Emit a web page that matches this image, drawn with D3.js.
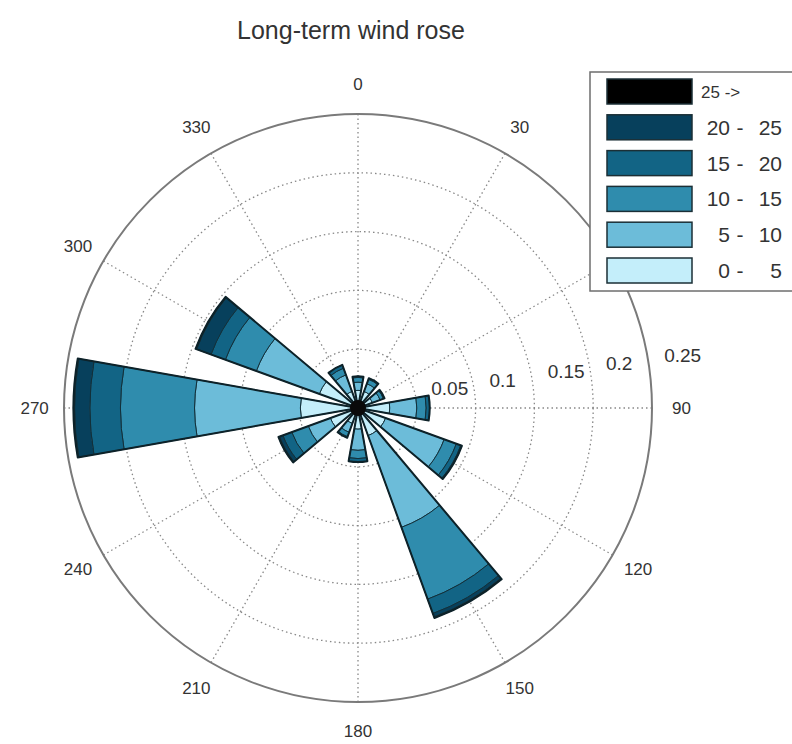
<!DOCTYPE html>
<html><head><meta charset="utf-8">
<script src="https://cdn.jsdelivr.net/npm/d3@7"></script>
<style>body{margin:0;background:#fff}svg{display:block}</style>
</head><body>
<script>
// ---- data ----
const directions = [0, 30, 60, 90, 120, 150, 180, 210, 240, 270, 300, 330];
const speedBins = ["0 - 5", "5 - 10", "10 - 15", "15 - 20", "20 - 25", "25 ->"];
const freq0to5   = [0.015, 0.015, 0.013, 0.027, 0.025, 0.025, 0.018, 0.014, 0.025, 0.049, 0.035, 0.015];
const freq5to10  = [0.007, 0.007, 0.007, 0.023, 0.053, 0.083, 0.018, 0.008, 0.020, 0.090, 0.057, 0.015];
const freq10to15 = [0.004, 0.004, 0.003, 0.008, 0.011, 0.065, 0.007, 0.004, 0.015, 0.063, 0.028, 0.006];
const freq15to20 = [0.001, 0.001, 0.001, 0.003, 0.004, 0.013, 0.003, 0.001, 0.008, 0.026, 0.013, 0.003];
const freq20to25 = [0.000, 0.000, 0.000, 0.000, 0.001, 0.003, 0.000, 0.000, 0.003, 0.013, 0.013, 0.000];
const freq25up   = [0.000, 0.000, 0.000, 0.000, 0.000, 0.001, 0.000, 0.000, 0.001, 0.001, 0.001, 0.000];
const binColors = ["#c4eefa", "#6cbcd9", "#2f8cad", "#126485", "#07405c", "#000000"];
const radialTicks = [0.05, 0.1, 0.15, 0.2, 0.25];
const angleTicks = [0, 30, 60, 90, 120, 150, 180, 210, 240, 270, 300, 330];
const titleText = "Long-term wind rose";

// ---- layout ----
const W = 792, H = 744, cx = 358, cy = 408, R = 294;
const font = "'Liberation Sans', Arial, sans-serif";
const svg = d3.select("body").append("svg").attr("width", W).attr("height", H);
svg.append("rect").attr("width", W).attr("height", H).attr("fill", "#fff");

const r = d3.scaleLinear().domain([0, 0.25]).range([0, R]);
const rad = d => d * Math.PI / 180;
const g = svg.append("g").attr("transform", `translate(${cx},${cy})`);

// grid
g.selectAll("circle.grid").data(radialTicks.slice(0, -1)).join("circle")
  .attr("class", "grid").attr("r", d => r(d)).attr("fill", "none")
  .attr("stroke", "#888").attr("stroke-width", 1.3).attr("stroke-dasharray", "1.5,3");
g.selectAll("line.spoke").data(angleTicks).join("line")
  .attr("class", "spoke")
  .attr("x1", 0).attr("y1", 0)
  .attr("x2", d => R * Math.sin(rad(d))).attr("y2", d => -R * Math.cos(rad(d)))
  .attr("stroke", "#888").attr("stroke-width", 1.3).attr("stroke-dasharray", "1.5,3");
g.append("circle").attr("r", r(0.25)).attr("fill", "none").attr("stroke", "#7a7a7a").attr("stroke-width", 2);

// bars
const series = [freq0to5, freq5to10, freq10to15, freq15to20, freq20to25, freq25up];
const arc = d3.arc();
const halfW = 10;
const segs = [], outlines = [];
directions.forEach((dir, i) => {
  let cum = 0;
  series.forEach((s, j) => {
    const v = s[i];
    if (v > 0) segs.push({dir, j, inner: cum, outer: cum + v});
    cum += v;
  });
  outlines.push({dir, total: cum});
});
g.selectAll("path.seg").data(segs).join("path").attr("class", "seg")
  .attr("d", d => arc({innerRadius: r(d.inner), outerRadius: r(d.outer),
    startAngle: rad(d.dir - halfW), endAngle: rad(d.dir + halfW)}))
  .attr("fill", d => binColors[d.j]).attr("stroke", "#12303a").attr("stroke-width", 1);
g.selectAll("path.outline").data(outlines).join("path").attr("class", "outline")
  .attr("d", d => arc({innerRadius: 0, outerRadius: r(d.total),
    startAngle: rad(d.dir - halfW), endAngle: rad(d.dir + halfW)}))
  .attr("fill", "none").attr("stroke", "#0d2229").attr("stroke-width", 2).attr("stroke-linejoin", "round");
// dark hub where all sector outlines meet
g.append("circle").attr("r", 8).attr("fill", "#0a0a0a");

// angle labels
g.selectAll("text.ang").data(angleTicks).join("text").attr("class", "ang")
  .attr("x", d => 1.1 * R * Math.sin(rad(d))).attr("y", d => -1.1 * R * Math.cos(rad(d)))
  .attr("text-anchor", "middle").attr("dominant-baseline", "central")
  .attr("font-family", font).attr("font-size", 17).attr("fill", "#333")
  .text(d => d);

// radial labels
g.selectAll("text.rl").data(radialTicks).join("text").attr("class", "rl")
  .attr("x", d => r(d) * Math.cos(rad(8)) + 15)
  .attr("y", d => -r(d) * Math.sin(rad(8)) - 5)
  .attr("font-family", font).attr("font-size", 19).attr("fill", "#333")
  .text(d => d);

// title
svg.append("text").attr("x", 351).attr("y", 39).attr("text-anchor", "middle")
  .attr("font-family", font).attr("font-size", 25).attr("fill", "#333").text(titleText);

// legend
const lg = svg.append("g");
lg.append("rect").attr("x", 590).attr("y", 72).attr("width", 215).attr("height", 219)
  .attr("fill", "#fff").attr("stroke", "#6e6e6e").attr("stroke-width", 1.5);
const legendItems = speedBins.map((b, j) => ({label: b, color: binColors[j]})).reverse();
const rows = lg.selectAll("g.row").data(legendItems).join("g").attr("class", "row")
  .attr("transform", (d, i) => `translate(0,${79 + i * 35.8})`);
rows.append("rect").attr("x", 607).attr("y", 0).attr("width", 85).attr("height", 25)
  .attr("fill", d => d.color).attr("stroke", "#1b2f36").attr("stroke-width", 1.5);
rows.each(function(d) {
  const row = d3.select(this);
  const parts = d.label.split(" ");
  if (parts[1] === "->") {
    row.append("text").attr("x", 701).attr("y", 19).attr("font-family", font).attr("font-size", 17).attr("fill", "#333").text("25 ->");
  } else {
    row.append("text").attr("x", 730).attr("y", 20).attr("text-anchor", "end").attr("font-family", font).attr("font-size", 21).attr("fill", "#333").text(parts[0]);
    row.append("text").attr("x", 740).attr("y", 20).attr("text-anchor", "middle").attr("font-family", font).attr("font-size", 21).attr("fill", "#333").text("-");
    row.append("text").attr("x", 782).attr("y", 20).attr("text-anchor", "end").attr("font-family", font).attr("font-size", 21).attr("fill", "#333").text(parts[2]);
  }
});
</script>
</body></html>
